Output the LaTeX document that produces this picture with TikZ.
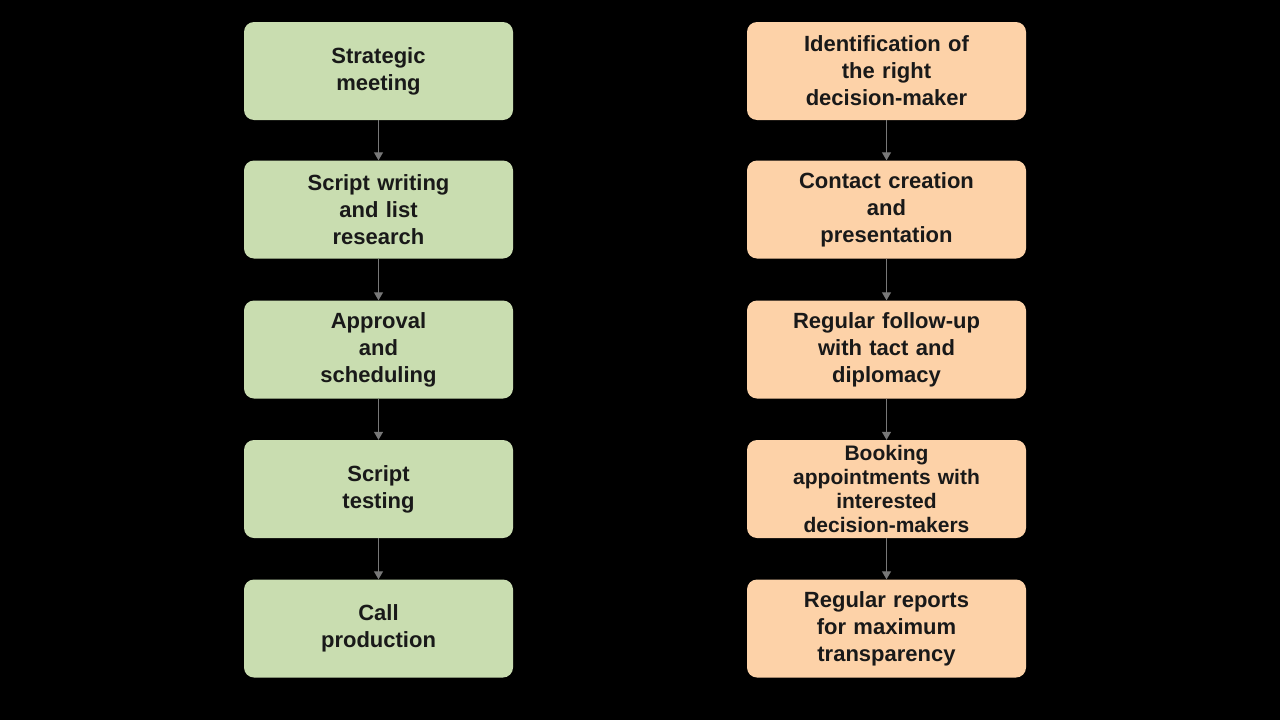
\documentclass[tikz,border=0pt]{standalone}
\usepackage{fontspec}
\setmainfont{Liberation Sans}
\usetikzlibrary{arrows.meta}
\begin{document}
\begin{tikzpicture}[x=1pt,y=-1pt,
  box/.style={rounded corners=10pt,minimum height=98pt,align=center,inner sep=2pt,
    font=\fontsize{22}{27}\selectfont\bfseries,text=black!90},
  g/.style={box,fill={rgb,255:red,201;green,221;blue,176},minimum width=269pt,text width=260pt},
  o/.style={box,fill={rgb,255:red,253;green,210;blue,168},minimum width=279pt,text width=270pt},
  arr/.style={draw={rgb,255:red,120;green,120;blue,120},line width=1.2pt,-{Triangle[length=8pt,width=9pt]}}]
\fill[black] (0,0) rectangle (1280,720);
\useasboundingbox (0,0) rectangle (1280,720);
\node[g] (l1) at (378.5,71) {Strategic\\meeting};
\node[g] (l2) at (378.5,209.5) {Script writing\\and list\\research};
\node[g] (l3) at (378.5,349.5) {Approval\\and\\scheduling};
\node[g] (l4) at (378.5,489) {Script\\testing};
\node[g] (l5) at (378.5,628.5) {Call\\production};
\node[o] (r1) at (886.5,71) {Identification of\\the right\\decision-maker};
\node[o] (r2) at (886.5,209.5) {Contact creation\\and\\presentation};
\node[o] (r3) at (886.5,349.5) {Regular follow-up\\with tact and\\diplomacy};
\node[o,font=\fontsize{21}{24}\selectfont\bfseries] (r4) at (886.5,489) {Booking\\appointments with\\interested\\decision-makers};
\node[o] (r5) at (886.5,628.5) {Regular reports\\for maximum\\transparency};
\foreach \a/\b in {l1/l2,l2/l3,l3/l4,l4/l5,r1/r2,r2/r3,r3/r4,r4/r5}
  \draw[arr] (\a) -- (\b);
\end{tikzpicture}
\end{document}
